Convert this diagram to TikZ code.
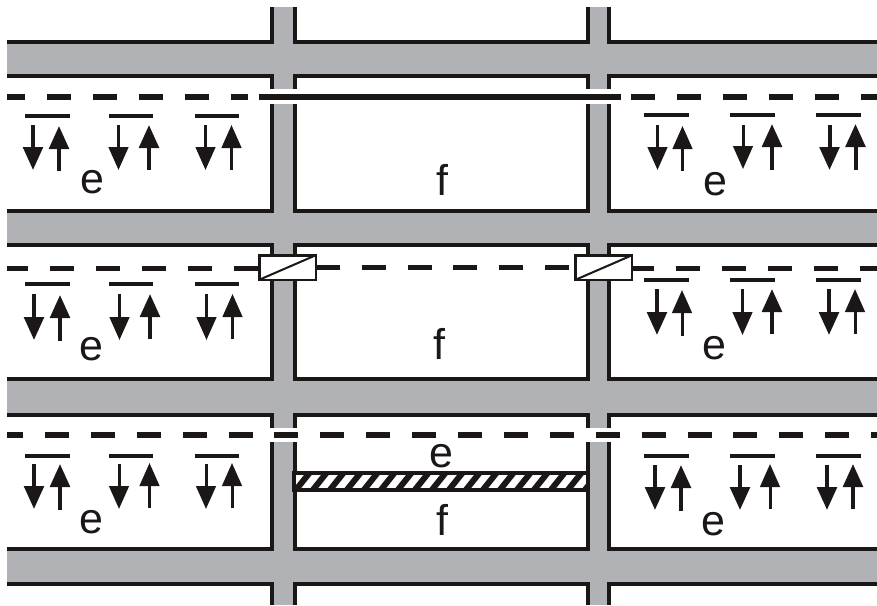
\documentclass[tikz,border=0pt]{standalone}
\usepackage{fontspec}
\setmainfont{Liberation Sans}
\usetikzlibrary{arrows.meta}
\definecolor{roadgray}{HTML}{B1B2B5}
\definecolor{inkblack}{HTML}{1A1716}
\tikzset{
    wall/.style={inkblack, line width=4pt},
    bar/.style={inkblack, line width=4pt},
    cable/.style={inkblack, line width=5.5pt},
    cabledash/.style={cable, dash pattern=on 24pt off 21.9pt},
    gate/.style={draw=inkblack, fill=white, line width=2.5pt, minimum width=56.5pt, minimum height=24.5pt, inner sep=0pt, outer sep=0pt},
    tag/.style={inkblack, font=\fontsize{43}{43}\selectfont, anchor=base, inner sep=0pt},
}
\begin{document}
\begin{tikzpicture}[x=1pt, y=-1pt, >={Triangle[length=23pt,width=19.5pt]}]
    \useasboundingbox (0,0) rectangle (877,605);

    % Strassen
    \foreach \ya/\yb in {41.5/76, 211/244.7, 379/414.5, 549/583.5}
        \fill[roadgray] (7,\ya) rectangle (877,\yb);
    \fill[roadgray] (272,7) rectangle (294.5,605);
    \fill[roadgray] (588,7) rectangle (609,605);

    % Raender oben und unten
    \draw[wall] (7,41.5) -| (272,7);
    \draw[wall] (294.5,7) |- (588,41.5) -- (588,7);
    \draw[wall] (609,7) |- (877,41.5);
    \draw[wall] (7,583.5) -| (272,605);
    \draw[wall] (294.5,605) |- (588,583.5) -- (588,605);
    \draw[wall] (609,605) |- (877,583.5);

    % Felder
    \foreach \ya/\yb in {76/211, 244.7/379, 414.5/549} {
        \draw[wall] (7,\ya) -| (272,\yb) -- (7,\yb);
        \draw[wall] (294.5,\ya) rectangle (588,\yb);
        \draw[wall] (877,\ya) -| (609,\yb) -- (877,\yb);
    }

    % Luecken in den Strassen
    \fill[white] (268,89) rectangle (297,104);
    \fill[white] (585,89) rectangle (612,104);
    \fill[white] (268,428) rectangle (297,442);
    \fill[white] (585,428) rectangle (612,442);

    % Leitung oben
    \coordinate (topa) at (7,97);
    \coordinate (topb) at (248,97);
    \coordinate (topc) at (259,97);
    \coordinate (topd) at (621,97);
    \coordinate (tope) at (631,97);
    \coordinate (topf) at (877,97);
    \draw[cabledash, dash phase=6pt] (topa) -- (topb);
    \draw[cable] (topc) -- (topd);
    \draw[cabledash] (tope) -- (topf);

    % Leitung Mitte
    \node[gate] (gatea) at (287.5,267.5) {};
    \node[gate] (gateb) at (603.8,267.5) {};
    \draw[inkblack, line width=2pt] (gatea.south west) -- (gatea.north east);
    \draw[inkblack, line width=2pt] (gateb.south west) -- (gateb.north east);
    \coordinate (mida) at (7,268.5);
    \coordinate (midb) at (877,268.5);
    \draw[cabledash, dash phase=3pt] (mida) -- (gatea.west |- mida);
    \draw[cabledash] (gatea.east) -- (gateb.west);
    \draw[cabledash, dash phase=2pt] (gateb.east |- mida) -- (midb);

    % Leitung unten
    \coordinate (lowa) at (7,435);
    \coordinate (lowb) at (877,435);
    \draw[cabledash, dash phase=8pt] (lowa) -- (lowb);

    % Schraffierter Balken
    \begin{scope}
        \clip (294,473) rectangle (588,489.5);
        \fill[white] (294,473) rectangle (588,489.5);
        \foreach \x in {278,295,...,600}
            \draw[inkblack, line width=6pt] (\x,491) -- (\x+16,471);
    \end{scope}
    \draw[wall] (294,473) rectangle (588,489.5);

    % Striche ueber den Pfeilen
    \foreach \y in {116,284,456} {
        \draw[bar] (25,\y) -- (70,\y);
        \draw[bar] (109,\y) -- (153,\y);
        \draw[bar] (195,\y) -- (239,\y);
    }
    \foreach \y in {115,280,456} {
        \draw[bar] (644,\y) -- (689,\y);
        \draw[bar] (730,\y) -- (775,\y);
        \draw[bar] (816,\y) -- (861,\y);
    }

    % Pfeile oben
    \foreach \x/\ya/\yb/\w in {33/125/170/4, 59/171/126/4, 118.5/125/170/3, 149/170/125/4, 205.5/125/170/3, 231.5/170/125/3,
        657.5/125/170/3, 682.5/171/126/3, 743/125/169/3, 772/170/124/4, 829.5/125/170/4, 855.5/170/124/4}
        \draw[->, inkblack, line width=\w pt] (\x,\ya) -- (\x,\yb);

    % Pfeile Mitte
    \foreach \x/\ya/\yb/\w in {34/294/340/4, 60/341/295/4, 119.5/294/340/3, 150/339/294/4, 206.5/294/340/3, 232.5/339/294/3,
        657/289/335/4, 682/336/290/3, 742.5/289/335/3, 772/334/289/4, 829/289/335/4, 855/334/289/3}
        \draw[->, inkblack, line width=\w pt] (\x,\ya) -- (\x,\yb);

    % Pfeile unten
    \foreach \x/\ya/\yb/\w in {34/464/509/4, 60/510/464/4, 119/464/509/3, 149.5/508/463/3, 206/464/509/3, 232/508/463/3,
        655/465/510/4, 681/511/465/4, 740/465/510/4, 770/509/464/3, 827/465/510/4, 853/509/464/4}
        \draw[->, inkblack, line width=\w pt] (\x,\ya) -- (\x,\yb);

    % Beschriftung
    \node[tag] (ea) at (92.5,193) {e};
    \node[tag] (eb) at (715.5,195) {e};
    \node[tag] (fa) at (442,195) {f};
    \node[tag] (ec) at (91.5,360) {e};
    \node[tag] (ed) at (714.5,359) {e};
    \node[tag] (fb) at (439,359) {f};
    \node[tag] (ee) at (91.5,533) {e};
    \node[tag] (ef) at (713.5,535) {e};
    \node[tag] (eg) at (441.5,467) {e};
    \node[tag] (fc) at (442,535) {f};
\end{tikzpicture}
\end{document}
